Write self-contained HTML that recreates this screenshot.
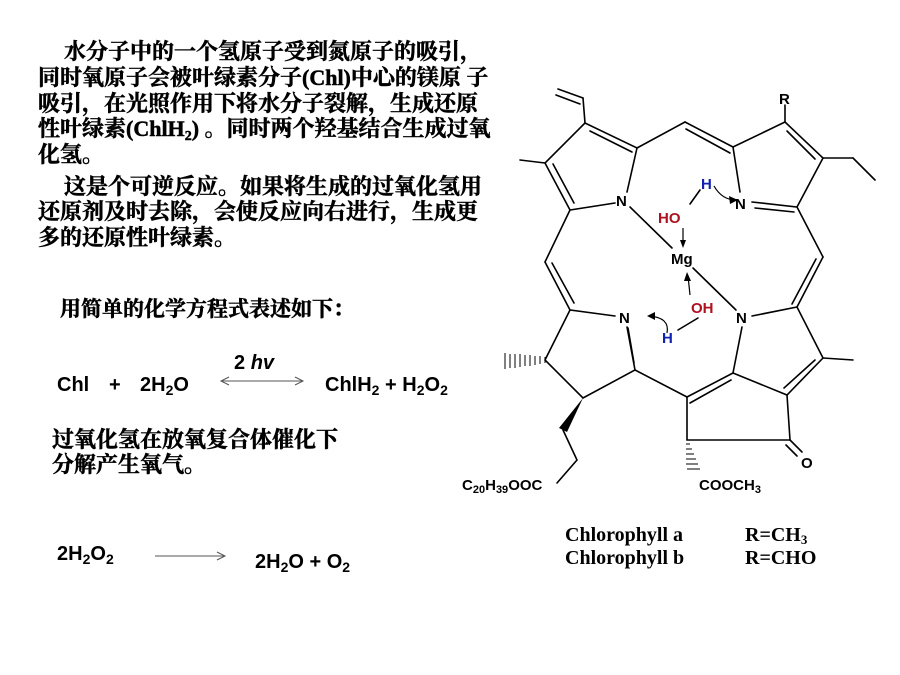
<!DOCTYPE html>
<html><head><meta charset="utf-8">
<style>
html,body{margin:0;padding:0;background:#fff;}
body{width:900px;height:675px;overflow:hidden;position:relative;}
svg{position:absolute;left:0;top:0;}
.cn{font-family:"Liberation Serif","Noto Serif CJK SC",serif;font-weight:bold;font-size:22px;fill:#000;stroke:#000;stroke-width:0.5;}
.eq{font-family:"Liberation Sans",sans-serif;font-weight:bold;font-size:20px;fill:#000;}
.at{font-family:"Liberation Sans",sans-serif;font-weight:bold;font-size:15px;}
.lab{font-family:"Liberation Serif",serif;font-weight:bold;font-size:20px;fill:#000;}
</style></head><body>
<svg width="900" height="675" viewBox="0 0 900 675">
<g class="cn">
<text x="64" y="59">水分子中的一个氢原子受到氮原子的吸引，</text>
<text x="38" y="85">同时氧原子会被叶绿素分子(Chl)中心的镁原 子</text>
<text x="38" y="111">吸引，在光照作用下将水分子裂解，生成还原</text>
<text x="38" y="136">性叶绿素(ChlH<tspan font-size="14" dy="4">2</tspan><tspan dy="-4">) 。同时两个羟基结合生成过氧</tspan></text>
<text x="38" y="162">化氢。</text>
<text x="64" y="194">这是个可逆反应。如果将生成的过氧化氢用</text>
<text x="38" y="219">还原剂及时去除，会使反应向右进行，生成更</text>
<text x="38" y="245">多的还原性叶绿素。</text>
<text x="60" y="316" font-size="21">用简单的化学方程式表述如下：</text>
<text x="52" y="447" font-size="22">过氧化氢在放氧复合体催化下</text>
<text x="52" y="472" font-size="22">分解产生氧气。</text>
</g>
<g class="eq">
<text x="234" y="369">2 <tspan font-style="italic">hv</tspan></text>
<text x="57" y="391">Chl</text>
<text x="109" y="391">+</text>
<text x="140" y="391">2H<tspan font-size="14" dy="4">2</tspan><tspan dy="-4">O</tspan></text>
<text x="325" y="391">ChlH<tspan font-size="14" dy="4">2</tspan><tspan dy="-4"> + H</tspan><tspan font-size="14" dy="4">2</tspan><tspan dy="-4">O</tspan><tspan font-size="14" dy="4">2</tspan></text>
<text x="57" y="560">2H<tspan font-size="14" dy="4">2</tspan><tspan dy="-4">O</tspan><tspan font-size="14" dy="4">2</tspan></text>
<text x="255" y="568">2H<tspan font-size="14" dy="4">2</tspan><tspan dy="-4">O + O</tspan><tspan font-size="14" dy="4">2</tspan></text>
</g>
<g stroke="#555" stroke-width="1" fill="none">
<line x1="221" y1="381" x2="303" y2="381"/>
<polyline points="229,377 221,381 229,385"/>
<polyline points="295,377 303,381 295,385"/>
<line x1="155" y1="556" x2="225" y2="556"/>
<polyline points="217,552 225,556 217,560"/>
</g>
<g stroke="#000" stroke-width="1.6" fill="none" stroke-linecap="round">
<polyline points="585,123 637,148 627,192"/>
<polyline points="615,203 570,210 545,163 585,123"/>
<line x1="590" y1="131" x2="632" y2="152"/>
<line x1="574" y1="203" x2="553" y2="164"/>
<line x1="545" y1="163" x2="520" y2="160"/>
<line x1="585" y1="123" x2="583" y2="98"/>
<line x1="583" y1="98" x2="558" y2="89"/>
<line x1="580" y1="104" x2="556" y2="95"/>
<line x1="637" y1="148" x2="685" y2="122"/>
<line x1="685" y1="122" x2="733" y2="147"/>
<line x1="686" y1="129" x2="730" y2="153"/>
<polyline points="733,147 785,122 823,158 797,207 752,202"/>
<line x1="733" y1="147" x2="740" y2="192"/>
<line x1="787" y1="131" x2="815" y2="159"/>
<line x1="755" y1="208" x2="794" y2="212"/>
<line x1="785" y1="122" x2="785" y2="105"/>
<line x1="823" y1="158" x2="853" y2="158"/>
<line x1="853" y1="158" x2="875" y2="180"/>
<line x1="797" y1="207" x2="823" y2="257"/>
<line x1="823" y1="257" x2="797" y2="307"/>
<line x1="816" y1="259" x2="792" y2="304"/>
<polyline points="752,316 797,307 823,358 787,395 733,373 742,327"/>
<line x1="815" y1="360" x2="784" y2="388"/>
<line x1="823" y1="358" x2="853" y2="360"/>
<line x1="733" y1="373" x2="687" y2="397"/>
<line x1="731" y1="380" x2="690" y2="403"/>
<polyline points="687,397 687,440 790,440 787,395"/>
<line x1="790" y1="440" x2="802" y2="452"/>
<line x1="786" y1="445" x2="797" y2="456"/>
<line x1="687" y1="397" x2="635" y2="370"/>
<polyline points="615,316 570,310 545,360 583,398 635,370 627,327"/>
<line x1="634" y1="363" x2="628" y2="328"/>
<line x1="570" y1="210" x2="545" y2="262"/>
<line x1="545" y1="262" x2="570" y2="310"/>
<line x1="552" y1="263" x2="574" y2="303"/>
<polyline points="563,430 577,460 557,483"/>
<line x1="630" y1="207" x2="672" y2="248"/>
<line x1="693" y1="268" x2="736" y2="310"/>
<line x1="700" y1="190" x2="690" y2="204"/>
<line x1="698" y1="318" x2="678" y2="330"/>
</g>
<polygon points="583,398 559,428 567,432" fill="#000"/>
<g stroke="#000" stroke-width="1">
<line x1="545" y1="357" x2="545" y2="363"/>
<line x1="540" y1="356" x2="540" y2="364"/>
<line x1="535" y1="356" x2="535" y2="365"/>
<line x1="530" y1="355" x2="530" y2="366"/>
<line x1="525" y1="355" x2="525" y2="366"/>
<line x1="520" y1="354" x2="520" y2="367"/>
<line x1="515" y1="354" x2="515" y2="368"/>
<line x1="510" y1="354" x2="510" y2="368"/>
<line x1="505" y1="353" x2="505" y2="369"/>
<line x1="686" y1="444" x2="690" y2="444"/>
<line x1="686" y1="449" x2="692" y2="449"/>
<line x1="686" y1="454" x2="694" y2="454"/>
<line x1="686" y1="459" x2="696" y2="459"/>
<line x1="686" y1="464" x2="698" y2="464"/>
<line x1="687" y1="469" x2="700" y2="469"/>
</g>
<g stroke="#000" stroke-width="1.2" fill="none">
<path d="M714,186 Q722,200 736,200"/>
<path d="M667,333 Q670,318 650,316"/>
<line x1="683" y1="228" x2="683" y2="244"/>
<line x1="690" y1="295" x2="688" y2="276"/>
</g>
<g fill="#000">
<polygon points="738,200 729,196 730,204"/>
<polygon points="647,316 655,312 655,320"/>
<polygon points="683,248 680,240 686,240"/>
<polygon points="687,272 684,281 691,281"/>
</g>
<g class="at">
<text x="616" y="206" fill="#000">N</text>
<text x="735" y="209" fill="#000">N</text>
<text x="619" y="323" fill="#000">N</text>
<text x="736" y="323" fill="#000">N</text>
<text x="671" y="264" fill="#000">Mg</text>
<text x="658" y="223" fill="#b01020">HO</text>
<text x="701" y="189" fill="#1020b0">H</text>
<text x="691" y="313" fill="#b01020">OH</text>
<text x="662" y="343" fill="#1020b0">H</text>
<text x="779" y="104" fill="#000">R</text>
<text x="801" y="468" fill="#000">O</text>
<text x="699" y="490" fill="#000">COOCH<tspan font-size="11" dy="3">3</tspan></text>
<text x="462" y="490" fill="#000">C<tspan font-size="11" dy="3">20</tspan><tspan dy="-3">H</tspan><tspan font-size="11" dy="3">39</tspan><tspan dy="-3">OOC</tspan></text>
</g>
<g class="lab">
<text x="565" y="541">Chlorophyll a</text>
<text x="745" y="541">R=CH<tspan font-size="13" dy="3">3</tspan></text>
<text x="565" y="564">Chlorophyll b</text>
<text x="745" y="564">R=CHO</text>
</g>
</svg>
</body></html>
